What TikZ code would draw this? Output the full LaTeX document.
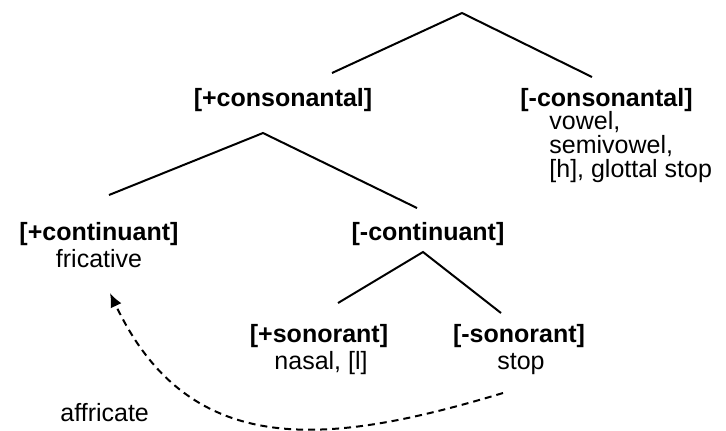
\documentclass[tikz,border=0pt]{standalone}
\usepackage{fontspec}
\setmainfont{Liberation Sans}
\usetikzlibrary{arrows.meta}

\begin{document}
\begin{tikzpicture}[x=0.5pt, y=-0.5pt,
    feat/.style={font=\fontsize{12.5}{15}\selectfont\bfseries, inner sep=0pt, anchor=base},
    seg/.style={font=\fontsize{12.5}{15}\selectfont, inner sep=0pt, anchor=base},
    branch/.style={line width=1pt}]
    \useasboundingbox (0,0) rectangle (726,430);
    % 素性のラベル
    \node[feat] (conplus) at (283,106) {[+consonantal]};
    \node[feat, anchor=base west] (conminus) at (520,106) {[-consonantal]};
    \node[seg, anchor=base west] (vowel) at (549,129) {vowel,};
    \node[seg, anchor=base west] (semivowel) at (549,153) {semivowel,};
    \node[seg, anchor=base west] (glottal) at (549,177) {[h], glottal stop};
    \node[feat] (contplus) at (99,240) {[+continuant]};
    \node[seg] (fricative) at (99,267) {fricative};
    \node[feat] (contminus) at (428,240) {[-continuant]};
    \node[feat] (sonplus) at (319,342) {[+sonorant]};
    \node[seg] (nasal) at (321,369) {nasal, [l]};
    \node[feat] (sonminus) at (519,342) {[-sonorant]};
    \node[seg] (stop) at (521,369) {stop};
    \node[seg, anchor=base west] (affricate) at (60,421) {affricate};
    % 枝
    \coordinate (top) at (462,13);
    \coordinate (top_l) at (332,73);
    \coordinate (top_r) at (592,77);
    \coordinate (con) at (263,133);
    \coordinate (con_l) at (109,195);
    \coordinate (con_r) at (417,208);
    \coordinate (cont) at (423,252);
    \coordinate (cont_l) at (338,303);
    \coordinate (cont_r) at (501,313);
    \draw[branch] (top_l)--(top)--(top_r);
    \draw[branch] (con_l)--(con)--(con_r);
    \draw[branch] (cont_l)--(cont)--(cont_r);
    % 破擦音の矢印
    \coordinate (aff_0) at (503,393);
    \coordinate (aff_1) at (110,293);
    \draw[branch, dash pattern=on 3.5pt off 2.5pt, -{Latex[length=7pt,width=6pt]}]
        (aff_0) .. controls (330,445) and (190,462) .. (aff_1);
\end{tikzpicture}
\end{document}
